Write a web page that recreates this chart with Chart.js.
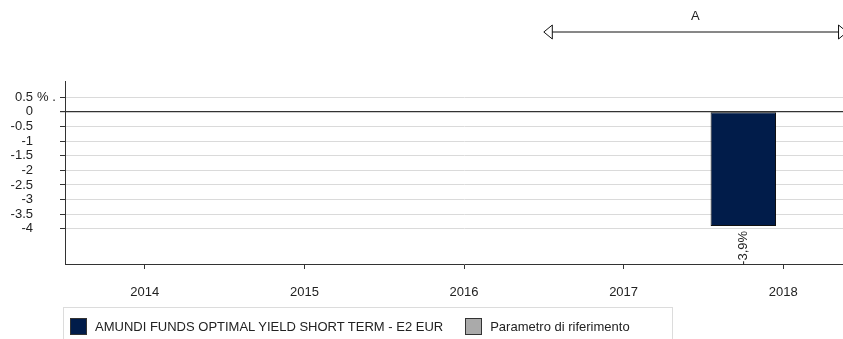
<!DOCTYPE html>
<html>
<head>
<meta charset="utf-8">
<script src="https://cdn.jsdelivr.net/npm/chart.js@4.4.0/dist/chart.umd.min.js"></script>
<style>
    body {
        margin: 0;
        width: 843px;
        height: 339px;
        overflow: hidden;
        background: #fff;
        font-family: 'Liberation Sans', Arial, sans-serif;
    }
    #wrap {
        position: absolute;
        left: 0;
        top: 0;
        width: 863px;
        height: 339px;
    }
    #legenda {
        position: absolute;
        left: 63px;
        top: 307px;
        width: 610px;
        height: 40px;
        border: 1px solid #dcdcdc;
        box-sizing: border-box;
        display: flex;
        align-items: flex-start;
        padding: 10px 0 0 6px;
        font-size: 13px;
        color: #222;
    }
    .voce {
        display: flex;
        align-items: center;
        margin-right: 22px;
    }
    .quadro {
        width: 15px;
        height: 15px;
        border: 1px solid #333;
        margin-right: 8px;
    }
</style>
</head>
<body>
<div id="wrap">
    <canvas id="rendChart" width="863" height="339"></canvas>
    <div id="legenda"></div>
</div>
<script>
const anni = ['2014', '2015', '2016', '2017', '2018'];
const rendFondo = [null, null, null, null, -3.9];
const rendParametro = [null, null, null, null, null];
const tickY = [0.5, 0, -0.5, -1, -1.5, -2, -2.5, -3, -3.5, -4];
const nomeFondo = 'AMUNDI FUNDS OPTIMAL YIELD SHORT TERM - E2 EUR';
const nomeParametro = 'Parametro di riferimento';
// periodo "A": da inizio 2017 a fine 2018 (in anni)
const periodoA = [2017.0, 2018.9];

const FONT = "'Liberation Sans', Arial, sans-serif";

const extra = {
    id: 'extra',
    afterDraw(chart) {
        const c = chart.ctx;
        const x = chart.scales.x;
        const y = chart.scales.y;
        c.save();
        c.font = '13px ' + FONT;
        c.fillStyle = '#222';

        // unita' accanto al primo tick
        c.textAlign = 'left';
        c.textBaseline = 'middle';
        c.fillText('% .', 37, y.getPixelForValue(tickY[0]));

        // etichette valori, ruotate
        const meta = chart.getDatasetMeta(0);
        meta.data.forEach((bar, i) => {
            const v = rendFondo[i];
            if (v === null) return;
            c.save();
            c.translate(bar.x, bar.y + 5);
            c.rotate(-Math.PI / 2);
            c.textAlign = 'right';
            c.textBaseline = 'middle';
            c.fillText(v.toFixed(1).replace('.', ',') + '%', 0, 0);
            c.restore();
        });

        // freccia del periodo
        const x1 = x.getPixelForValue(periodoA[0] - 2014.5);
        const x2 = x.getPixelForValue(periodoA[1] - 2014.5);
        const ya = 32;
        c.strokeStyle = '#111';
        c.lineWidth = 1;
        c.beginPath();
        c.moveTo(x1 + 8, ya);
        c.lineTo(x2 - 8, ya);
        c.stroke();
        c.fillStyle = '#fff';
        [[x1, 1], [x2, -1]].forEach(([px, d]) => {
            c.beginPath();
            c.moveTo(px, ya);
            c.lineTo(px + d * 8.5, ya - 7);
            c.lineTo(px + d * 8.5, ya + 7);
            c.closePath();
            c.fill();
            c.stroke();
        });
        c.fillStyle = '#222';
        c.textAlign = 'center';
        c.fillText('A', (x1 + x2) / 2, 16);
        c.restore();
    }
};

const grafico = new Chart(document.getElementById('rendChart'), {
    type: 'bar',
    data: {
        labels: anni,
        datasets: [{
            label: nomeFondo,
            data: rendFondo,
            backgroundColor: '#011c4a',
            borderColor: '#111',
            borderWidth: 1,
            borderSkipped: false
        }, {
            label: nomeParametro,
            data: rendParametro,
            backgroundColor: '#aaaaaa',
            borderColor: '#333',
            borderWidth: 1,
            borderSkipped: false
        }]
    },
    options: {
        responsive: false,
        animation: false,
        events: [],
        layout: {
            padding: { top: 81, left: 0, right: 0, bottom: 0 }
        },
        datasets: {
            bar: {
                categoryPercentage: 1.0,
                barPercentage: 0.82
            }
        },
        plugins: {
            legend: { display: false },
            tooltip: { enabled: false }
        },
        scales: {
            x: {
                grid: {
                    offset: false,
                    drawOnChartArea: false,
                    drawTicks: true,
                    tickLength: 5,
                    tickColor: '#333'
                },
                border: { color: '#333', width: 1 },
                ticks: {
                    color: '#222',
                    padding: 16,
                    maxRotation: 0,
                    font: { family: FONT, size: 13 }
                },
                afterFit(s) { s.height = 75; }
            },
            y: {
                min: -5.2,
                max: 1.05,
                afterBuildTicks(s) {
                    s.ticks = tickY.map(v => ({ value: v }));
                },
                grid: {
                    color: ctx => ctx.tick && ctx.tick.value === 0 ? '#333' : '#dadada',
                    lineWidth: ctx => ctx.tick && ctx.tick.value === 0 ? 1.2 : 1,
                    tickLength: 5,
                    tickColor: '#333'
                },
                border: { color: '#333', width: 1 },
                ticks: {
                    color: '#222',
                    padding: 27,
                    font: { family: FONT, size: 13 },
                    callback: v => String(v)
                },
                afterFit(s) { s.width = 65; }
            }
        }
    },
    plugins: [extra]
});

// legenda html
const leg = document.getElementById('legenda');
grafico.data.datasets.forEach(ds => {
    const voce = document.createElement('div');
    voce.className = 'voce';
    const q = document.createElement('span');
    q.className = 'quadro';
    q.style.background = ds.backgroundColor;
    const t = document.createElement('span');
    t.textContent = ds.label;
    voce.appendChild(q);
    voce.appendChild(t);
    leg.appendChild(voce);
});
</script>
</body>
</html>
